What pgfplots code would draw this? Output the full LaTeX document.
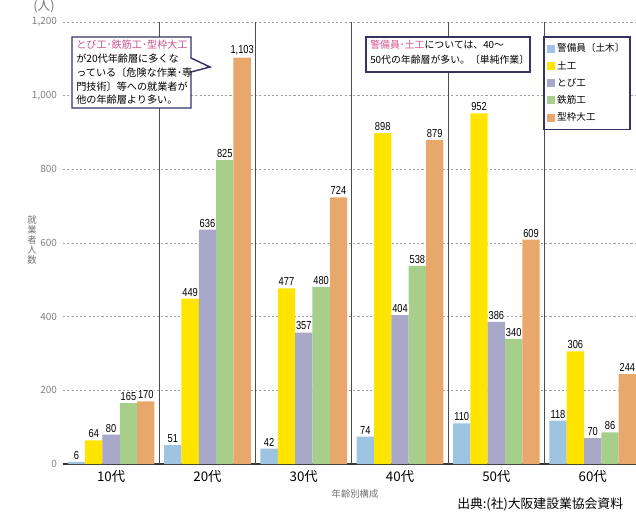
\documentclass[border=0pt]{standalone}
\usepackage{fontspec}
\setmainfont{Noto Sans CJK JP}
\newfontfamily\cond[FakeStretch=0.8]{Liberation Sans}
\usepackage{pgfplots}
\pgfplotsset{compat=1.18}
\definecolor{cBlue}{RGB}{158,196,226}
\definecolor{cYellow}{RGB}{255,228,0}
\definecolor{cPurple}{RGB}{168,168,200}
\definecolor{cGreen}{RGB}{168,206,140}
\definecolor{cOrange}{RGB}{232,168,108}
\definecolor{navyc}{RGB}{52,52,100}
\definecolor{pinkc}{RGB}{205,85,145}
\begin{document}
\begin{tikzpicture}
\begin{axis}[
  scale only axis, width=429.75pt, height=331.5pt,
  xmin=-0.5, xmax=5.45, ymin=0, ymax=1200,
  ybar=0pt, bar width=0.18,
  axis x line*=bottom, axis y line*=left,
  y axis line style={draw=none},
  x axis line style={line width=1.3pt, black!80},
  xtick={0,1,2,3,4,5},
  xticklabels={10代,20代,30代,40代,50代,60代},
  ytick={0,200,400,600,800,1000,1200},
  major tick length=0pt,
  ymajorgrids,
  grid style={gray!75, line width=0.6pt, dash pattern=on 1.6pt off 1.6pt},
  extra x ticks={0.5,1.5,2.5,3.5,4.5},
  extra x tick labels={},
  extra x tick style={grid=major, major grid style={solid, black!70, line width=0.8pt}},
  /pgf/number format/assume math mode=true,
  yticklabel style={font=\fontsize{7.5}{9}\selectfont, text=gray, xshift=-1pt},
  xticklabel style={font=\fontsize{10}{12}\selectfont, yshift=-1pt},
  nodes near coords,
  every node near coord/.append style={font=\cond\fontsize{8.7}{10}\selectfont, fill=white, inner sep=0.6pt, anchor=south, yshift=1pt},
  legend style={at={(0.838,0.968)}, anchor=north west, draw=navyc, line width=1.1pt,
    font=\fontsize{7.2}{8.5}\selectfont, row sep=1.4pt, inner xsep=2pt, inner ysep=3pt,
    cells={anchor=west}},
  legend image code/.code={\fill[#1, draw=none] (0pt,-3pt) rectangle (6pt,3pt);},
]
\addplot[fill=cBlue, draw=none, bar shift=-0.36] coordinates {(0,6) (1,51) (2,42) (3,74) (4,110) (5,118)};
\addplot[fill=cYellow, draw=none, bar shift=-0.18] coordinates {(0,64) (1,449) (2,477) (3,898) (4,952) (5,306)};
\addplot[fill=cPurple, draw=none, bar shift=0] coordinates {(0,80) (1,636) (2,357) (3,404) (4,386) (5,70)};
\addplot[fill=cGreen, draw=none, bar shift=0.18] coordinates {(0,165) (1,825) (2,480) (3,538) (4,340) (5,86)};
\addplot[fill=cOrange, draw=none, bar shift=0.36] coordinates {(0,170) (1,1103) (2,724) (3,879) (4,609) (5,244)};
\legend{警備員〔土木〕,土工,とび工,鉄筋工,型枠大工}
\end{axis}
\begin{scope}[shift={(-47.25pt,348pt)}, x=0.75pt, y=-0.75pt]
  % callout box 1
  \draw[fill=white, draw=navyc, line width=1.1pt, line join=miter]
    (72,37) -- (191,37) -- (191,58) -- (210,67) -- (191,72) -- (191,108) -- (72,108) -- cycle;
  \node[anchor=north west, align=left, inner sep=0pt, font=\fontsize{7.6}{10.3}\selectfont] at (76,40)
    {\textcolor{pinkc}{とび工･鉄筋工･型枠大工}\\が20代年齢層に多くな\\っている〔危険な作業･専\\門技術〕等への就業者が\\他の年齢層より多い。};
  % box 2
  \draw[fill=white, draw=navyc, line width=1.1pt] (366,37) rectangle (530,72);
  \node[anchor=north west, align=left, inner sep=0pt, font=\fontsize{7.4}{11}\selectfont] at (370,40)
    {\textcolor{pinkc}{警備員･土工}については、40～\\50代の年齢層が多い。〔単純作業〕};
  % y unit and label
  \node[font=\fontsize{9.5}{10}\selectfont, text=gray!90!black] at (44,7) {(人)};
  \node[align=center, font=\fontsize{7}{7.6}\selectfont, text=gray!90!black] at (32,240) {就\\業\\者\\人\\数};
  % x label
  \node[font=\fontsize{7}{8}\selectfont, text=gray!90!black] at (355,494) {年齢別構成};
  % source
  \node[anchor=west, inner sep=0pt, font=\fontsize{9.6}{12}\selectfont] at (457,504) {出典:(社)大阪建設業協会資料};
\end{scope}
\pgfresetboundingbox
\useasboundingbox (-47.25pt,-43.5pt) rectangle (429.75pt,348pt);
\end{tikzpicture}
\end{document}
